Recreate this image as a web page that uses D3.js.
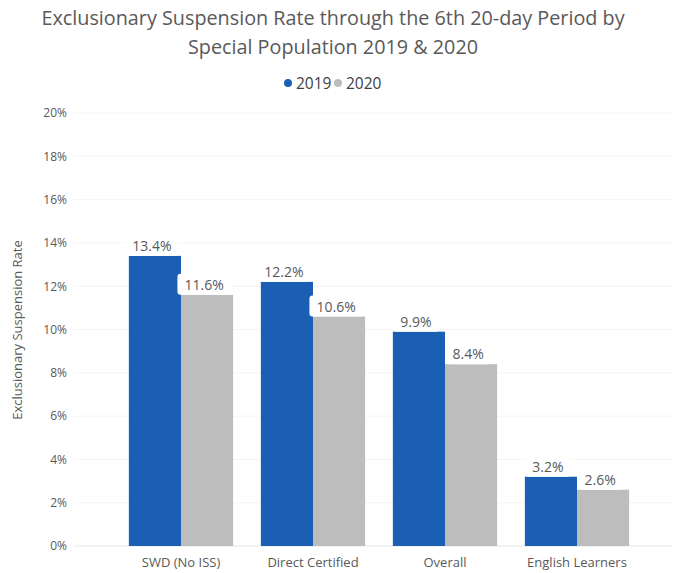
<!DOCTYPE html>
<html>
<head>
<meta charset="utf-8">
<script src="https://cdn.jsdelivr.net/npm/d3@7"></script>
<style>
  body { margin: 0; background: #fff; }
  text { font-family: "Open Sans", "DejaVu Sans", sans-serif; fill: #595959; }
</style>
</head>
<body>
<div id="chart"></div>
<script>
// chart data
var categories = ["SWD (No ISS)", "Direct Certified", "Overall", "English Learners"];
var years = ["2019", "2020"];
var values2019 = [13.4, 12.2, 9.9, 3.2];
var values2020 = [11.6, 10.6, 8.4, 2.6];
var yTicks = [0, 2, 4, 6, 8, 10, 12, 14, 16, 18, 20];

var colors = { "2019": "#1b5fb5", "2020": "#bdbdbd" };

var width = 673, height = 573;

var svg = d3.select("#chart")
    .append("svg")
    .attr("width", width)
    .attr("height", height);

var y = d3.scaleLinear()
    .domain([0, 20])
    .range([546, 113]);

var x = d3.scaleBand()
    .domain(categories)
    .range([115, 643])
    .paddingInner(0.21)
    .paddingOuter(0.105);

var xSub = d3.scaleBand()
    .domain(years)
    .range([0, x.bandwidth()]);

// title
var title = svg.append("g");
title.append("text")
    .attr("x", 333).attr("y", 25)
    .attr("text-anchor", "middle")
    .style("font-size", "19.8px")
    .text("Exclusionary Suspension Rate through the 6th 20-day Period by");
title.append("text")
    .attr("x", 333).attr("y", 54)
    .attr("text-anchor", "middle")
    .style("font-size", "19.8px")
    .text("Special Population 2019 & 2020");

// legend
var legend = svg.append("g").attr("transform", "translate(288,83)");
legend.selectAll("g")
  .data(years)
  .enter().append("g")
  .attr("transform", function(d, i) { return "translate(" + (i * 50) + ",0)"; })
  .each(function(d) {
    var g = d3.select(this);
    g.append("circle").attr("r", 4).attr("cx", 0).attr("cy", 0).attr("fill", colors[d]);
    g.append("text").attr("x", 8).attr("y", 5.5)
      .style("font-size", "15.5px").style("fill", "#404040").text(d);
  });

// gridlines
svg.append("g")
  .selectAll("line")
  .data(yTicks)
  .enter().append("line")
  .attr("x1", 74).attr("x2", 672)
  .attr("y1", function(d) { return y(d); })
  .attr("y2", function(d) { return y(d); })
  .attr("stroke", function(d) { return d == 0 ? "#e6e6e6" : "#f4f4f4"; })
  .attr("stroke-width", 1);

// y axis
var yAxis = svg.append("g")
    .attr("transform", "translate(67,0)")
    .call(d3.axisLeft(y).tickValues(yTicks).tickSize(0).tickPadding(0)
      .tickFormat(function(d) { return d + "%"; }));
yAxis.select(".domain").remove();
yAxis.selectAll("text").style("font-size", "12px").style("font-family", "\"Open Sans\", sans-serif").attr("fill", "#595959");

svg.append("text")
    .attr("transform", "translate(22,330) rotate(-90)")
    .attr("text-anchor", "middle")
    .style("font-size", "13px")
    .text("Exclusionary Suspension Rate");

// bars
var rows = [];
categories.forEach(function(c, i) {
  rows.push({ cat: c, year: "2019", value: values2019[i] });
  rows.push({ cat: c, year: "2020", value: values2020[i] });
});

svg.append("g")
  .selectAll("rect")
  .data(rows)
  .enter().append("rect")
  .attr("x", function(d) { return x(d.cat) + xSub(d.year); })
  .attr("y", function(d) { return y(d.value); })
  .attr("width", xSub.bandwidth())
  .attr("height", function(d) { return y(0) - y(d.value); })
  .attr("fill", function(d) { return colors[d.year]; });

// value labels with white background sized to the text
var labels = svg.append("g")
  .selectAll("g")
  .data(rows)
  .enter().append("g")
  .attr("transform", function(d) {
    return "translate(" + (x(d.cat) + xSub(d.year) + xSub.bandwidth() / 2) + "," + (y(d.value) - 10) + ")";
  });

labels.append("text")
  .attr("text-anchor", "middle")
  .attr("x", -3)
  .attr("y", 5)
  .style("font-size", "14px")
  .text(function(d) { return d.value.toFixed(1) + "%"; });

labels.each(function() {
  var g = d3.select(this);
  var bb = g.select("text").node().getBBox();
  g.insert("rect", "text")
    .attr("x", bb.x - 7).attr("y", -11)
    .attr("width", bb.width + 14).attr("height", 21)
    .attr("rx", 3)
    .attr("fill", "#fff");
});

// category labels
svg.append("g")
  .selectAll("text")
  .data(categories)
  .enter().append("text")
  .attr("x", function(d) { return x(d) + x.bandwidth() / 2; })
  .attr("y", 567)
  .attr("text-anchor", "middle")
  .style("font-size", "13px")
  .text(function(d) { return d; });
</script>
</body>
</html>
